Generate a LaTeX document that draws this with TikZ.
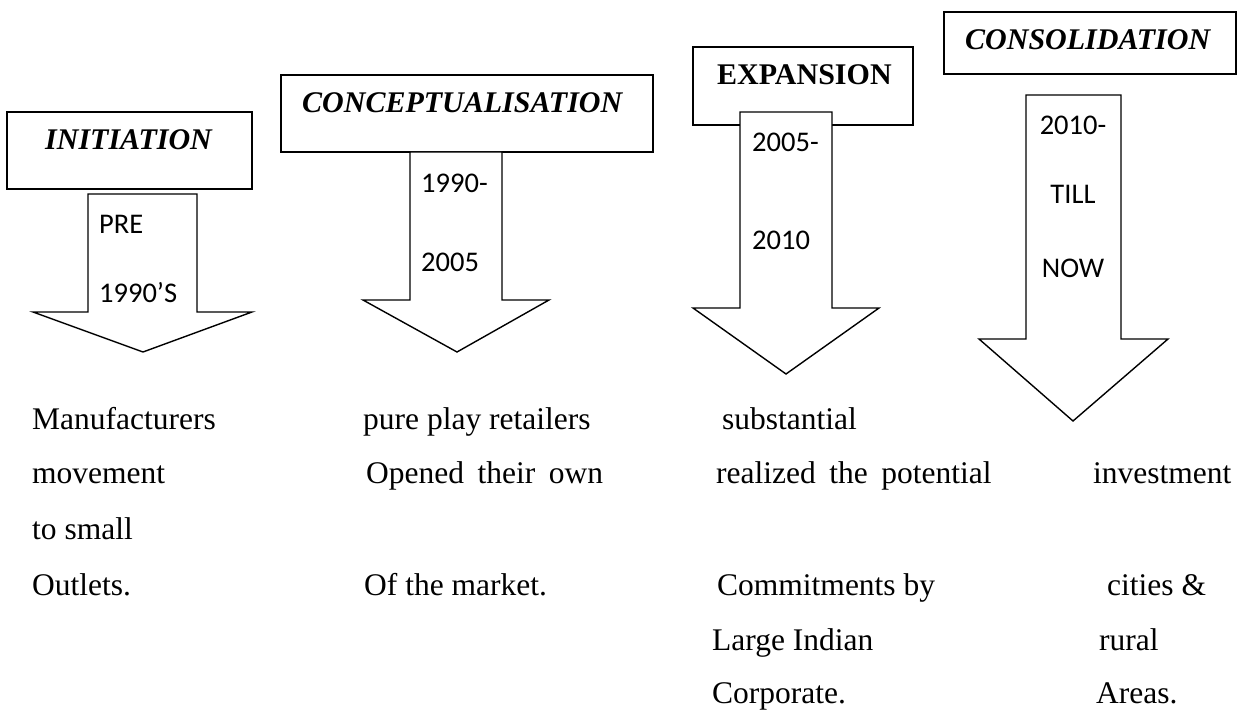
\documentclass[tikz,border=0pt]{standalone}
\usepackage{fontspec}
\setmainfont{Liberation Serif}
\newfontfamily\periodfont{Carlito}

\begin{document}
\begin{tikzpicture}[x=1pt,y=-1pt,
  phasebox/.style={draw, line width=2pt, fill=white, inner sep=0},
  phasearrow/.style={draw, line width=1.4pt, fill=white, line join=miter},
  titletext/.style={anchor=base west, inner sep=0, font=\fontsize{30}{36}\selectfont\bfseries\itshape},
  titleupright/.style={anchor=base west, inner sep=0, font=\fontsize{30}{36}\selectfont\bfseries},
  period/.style={anchor=base west, inner sep=0, font=\fontsize{28.5}{34}\selectfont\periodfont},
  periodc/.style={anchor=base, inner sep=0, font=\fontsize{28.5}{34}\selectfont\periodfont},
  bodytext/.style={anchor=base west, inner sep=0, font=\fontsize{31.5}{38}\selectfont}]
\useasboundingbox (0,0) rectangle (1244,711);

% ---- phase boxes ----
\node[phasebox, minimum width=245pt, minimum height=77pt] (initbox) at (129.5,150.5) {};
\node[phasebox, minimum width=372pt, minimum height=77pt] (concbox) at (467,113.5) {};
\node[phasebox, minimum width=220pt, minimum height=78pt] (expbox)  at (803,86) {};
\node[phasebox, minimum width=292pt, minimum height=62pt] (consbox) at (1090,43) {};

% ---- block arrows ----
\draw[phasearrow] (88,194) -- (197,194) -- (197,312) -- (252,312) -- (143,352)
  -- (33,312) -- (88,312) -- cycle;
\draw[phasearrow] (410,152) -- (502,152) -- (502,300) -- (549,300) -- (457,352)
  -- (363,300) -- (410,300) -- cycle;
\draw[phasearrow] (740,112) -- (832,112) -- (832,308) -- (879,308) -- (786,374)
  -- (693,308) -- (740,308) -- cycle;
\draw[phasearrow] (1026,95) -- (1121,95) -- (1121,339) -- (1168,339) -- (1073,421)
  -- (979,339) -- (1026,339) -- cycle;

% ---- phase titles ----
\node[titletext] (inittitle) at (45,150) {INITIATION};
\node[titletext] (conctitle) at (302,113) {CONCEPTUALISATION};
\node[titleupright] (exptitle) at (717,85) {EXPANSION};
\node[titletext] (constitle) at (965,50) {CONSOLIDATION};

% ---- periods inside the arrows ----
\node[period] (p1a) at (99,234) {PRE};
\node[period] (p1b) at (99,302) {1990’S};
\node[period] (p2a) at (421,193) {1990-};
\node[period] (p2b) at (421,272) {2005};
\node[period] (p3a) at (752,152) {2005-};
\node[period] (p3b) at (752,250) {2010};
\node[periodc] (p4a) at (1073,135) {2010-};
\node[periodc] (p4b) at (1073,204) {TILL};
\node[periodc] (p4c) at (1073,277) {NOW};

% ---- descriptions ----
\node[bodytext] (d1a) at (32,429) {Manufacturers};
\node[bodytext] (d1b) at (32,483) {movement};
\node[bodytext] (d1c) at (32,539) {to small};
\node[bodytext] (d1d) at (32,595) {Outlets.};

\node[bodytext] (d2a) at (363,429) {pure play retailers};
\node[bodytext] (d2b) at (366,483) {Opened\hspace{13.5pt}their\hspace{13.5pt}own};
\node[bodytext] (d2c) at (364,595) {Of the market.};

\node[bodytext] (d3a) at (722,429) {substantial};
\node[bodytext] (d3b) at (716,483) {realized\hspace{13.5pt}the\hspace{13.5pt}potential};
\node[bodytext] (d3c) at (717,595) {Commitments by};
\node[bodytext] (d3d) at (712,650) {Large Indian};
\node[bodytext] (d3e) at (712,703) {Corporate.};

\node[bodytext] (d4a) at (1093,483) {investment};
\node[bodytext] (d4b) at (1107,595) {cities \&};
\node[bodytext] (d4c) at (1099,650) {rural};
\node[bodytext] (d4d) at (1096,703) {Areas.};
\end{tikzpicture}
\end{document}
